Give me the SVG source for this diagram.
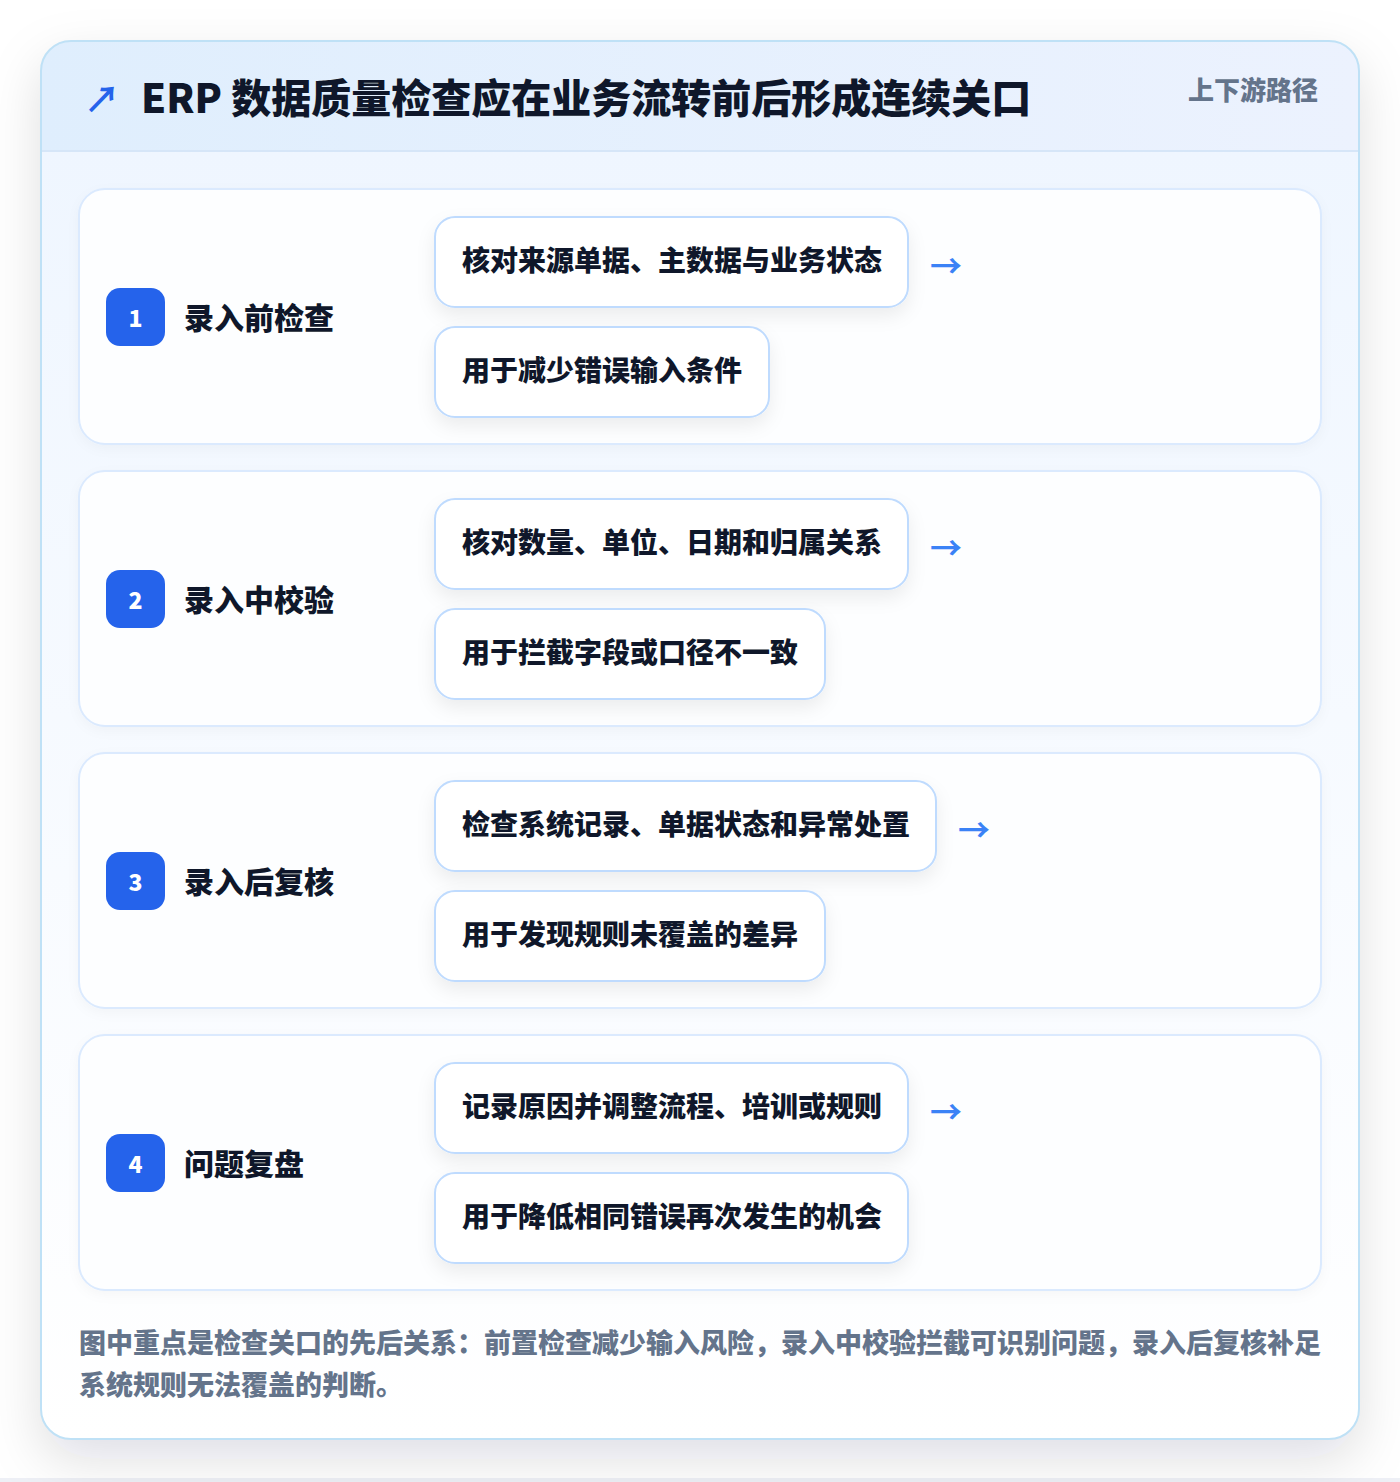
<svg xmlns="http://www.w3.org/2000/svg" width="1400" height="1482" viewBox="0 0 1400 1482">
<defs>
<style>
text{font-family:"Noto Sans CJK SC","Noto Sans",sans-serif;font-weight:800}
.title{font-size:40px;fill:#0f172a}
.tag{font-size:26px;fill:#64748b}
.card{fill:#fdfeff;stroke:#dbeafe;stroke-width:2}
.badge{fill:#2563eb}
.num{font-size:23px;fill:#ffffff}
.lbl{font-size:30px;fill:#0f172a}
.pill{fill:#ffffff;stroke:#bfdbfe;stroke-width:2}
.ptxt{font-size:28px;fill:#0f172a}
.arr{font-size:32px;fill:#3b82f6;font-weight:700}
.foot{font-size:27px;fill:#64748b}
</style>
<linearGradient id="hdr" x1="0" y1="0" x2="1" y2="0">
<stop offset="0" stop-color="#dfeefd"/>
<stop offset="1" stop-color="#ecf2fe"/>
</linearGradient>
<linearGradient id="body" x1="0" y1="0" x2="0" y2="1">
<stop offset="0" stop-color="#eff6ff"/>
<stop offset="1" stop-color="#ffffff"/>
</linearGradient>
<clipPath id="cardclip"><rect x="41" y="41" width="1318" height="1398" rx="30"/></clipPath>
<filter id="outerShadow" x="-10%" y="-10%" width="120%" height="120%">
<feDropShadow dx="0" dy="20" stdDeviation="26" flood-color="#0f172a" flood-opacity="0.13"/>
</filter>
<filter id="pillShadow" x="-20%" y="-40%" width="140%" height="180%">
<feDropShadow dx="0" dy="8" stdDeviation="9" flood-color="#0f172a" flood-opacity="0.07"/>
</filter>
<filter id="cardShadow" x="-5%" y="-10%" width="110%" height="120%">
<feDropShadow dx="0" dy="4" stdDeviation="6" flood-color="#0f172a" flood-opacity="0.03"/>
</filter>
</defs>
<rect x="0" y="0" width="1400" height="1482" fill="#ffffff"/>
<rect x="0" y="1478" width="1400" height="4" fill="#eef0f6"/>
<g id="frame">
<rect x="41" y="41" width="1318" height="1398" rx="30" fill="#ffffff" filter="url(#outerShadow)"/>
<g clip-path="url(#cardclip)">
<rect x="41" y="151" width="1318" height="1290" fill="url(#body)"/>
<rect x="41" y="41" width="1318" height="110" fill="url(#hdr)"/>
<line x1="41" y1="151" x2="1359" y2="151" stroke="#d6e6f8" stroke-width="2"/>
</g>
<rect x="41" y="41" width="1318" height="1398" rx="30" fill="none" stroke="#bfe1f6" stroke-width="2"/>
</g>
<g id="header">
<text x="84" y="113" style="font-size:36px;fill:#2563eb;font-weight:700">↗</text>
<text x="141" y="113" class="title">ERP 数据质量检查应在业务流转前后形成连续关口</text>
<text x="1318" y="100" class="tag" text-anchor="end">上下游路径</text>
</g>
<g id="stage1">
<rect x="79" y="189" width="1242" height="255" rx="26" class="card" filter="url(#cardShadow)"/>
<rect x="106" y="288" width="59" height="58" rx="14" class="badge"/>
<text x="135.5" y="327" class="num" text-anchor="middle">1</text>
<text x="184" y="329" class="lbl">录入前检查</text>
<rect x="435" y="217" width="473" height="90" rx="20" class="pill" filter="url(#pillShadow)"/>
<text x="462" y="271" class="ptxt">核对来源单据、主数据与业务状态</text>
<rect x="435" y="327" width="334" height="90" rx="20" class="pill" filter="url(#pillShadow)"/>
<text x="462" y="381" class="ptxt">用于减少错误输入条件</text>
</g>
<g id="stage2">
<rect x="79" y="471" width="1242" height="255" rx="26" class="card" filter="url(#cardShadow)"/>
<rect x="106" y="570" width="59" height="58" rx="14" class="badge"/>
<text x="135.5" y="609" class="num" text-anchor="middle">2</text>
<text x="184" y="611" class="lbl">录入中校验</text>
<rect x="435" y="499" width="473" height="90" rx="20" class="pill" filter="url(#pillShadow)"/>
<text x="462" y="553" class="ptxt">核对数量、单位、日期和归属关系</text>
<rect x="435" y="609" width="390" height="90" rx="20" class="pill" filter="url(#pillShadow)"/>
<text x="462" y="663" class="ptxt">用于拦截字段或口径不一致</text>
</g>
<g id="stage3">
<rect x="79" y="753" width="1242" height="255" rx="26" class="card" filter="url(#cardShadow)"/>
<rect x="106" y="852" width="59" height="58" rx="14" class="badge"/>
<text x="135.5" y="891" class="num" text-anchor="middle">3</text>
<text x="184" y="893" class="lbl">录入后复核</text>
<rect x="435" y="781" width="501" height="90" rx="20" class="pill" filter="url(#pillShadow)"/>
<text x="462" y="835" class="ptxt">检查系统记录、单据状态和异常处置</text>
<rect x="435" y="891" width="390" height="90" rx="20" class="pill" filter="url(#pillShadow)"/>
<text x="462" y="945" class="ptxt">用于发现规则未覆盖的差异</text>
</g>
<g id="stage4">
<rect x="79" y="1035" width="1242" height="255" rx="26" class="card" filter="url(#cardShadow)"/>
<rect x="106" y="1134" width="59" height="58" rx="14" class="badge"/>
<text x="135.5" y="1173" class="num" text-anchor="middle">4</text>
<text x="184" y="1175" class="lbl">问题复盘</text>
<rect x="435" y="1063" width="473" height="90" rx="20" class="pill" filter="url(#pillShadow)"/>
<text x="462" y="1117" class="ptxt">记录原因并调整流程、培训或规则</text>
<rect x="435" y="1173" width="473" height="90" rx="20" class="pill" filter="url(#pillShadow)"/>
<text x="462" y="1227" class="ptxt">用于降低相同错误再次发生的机会</text>
</g>
<g id="connectors">
<text x="930" y="278" class="arr">→</text>
<text x="930" y="560" class="arr">→</text>
<text x="958" y="842" class="arr">→</text>
<text x="930" y="1124" class="arr">→</text>
</g>
<g id="footer">
<text x="79" y="1353" class="foot">图中重点是检查关口的先后关系：前置检查减少输入风险，录入中校验拦截可识别问题，录入后复核补足</text>
<text x="79" y="1395" class="foot">系统规则无法覆盖的判断。</text>
</g>
</svg>
